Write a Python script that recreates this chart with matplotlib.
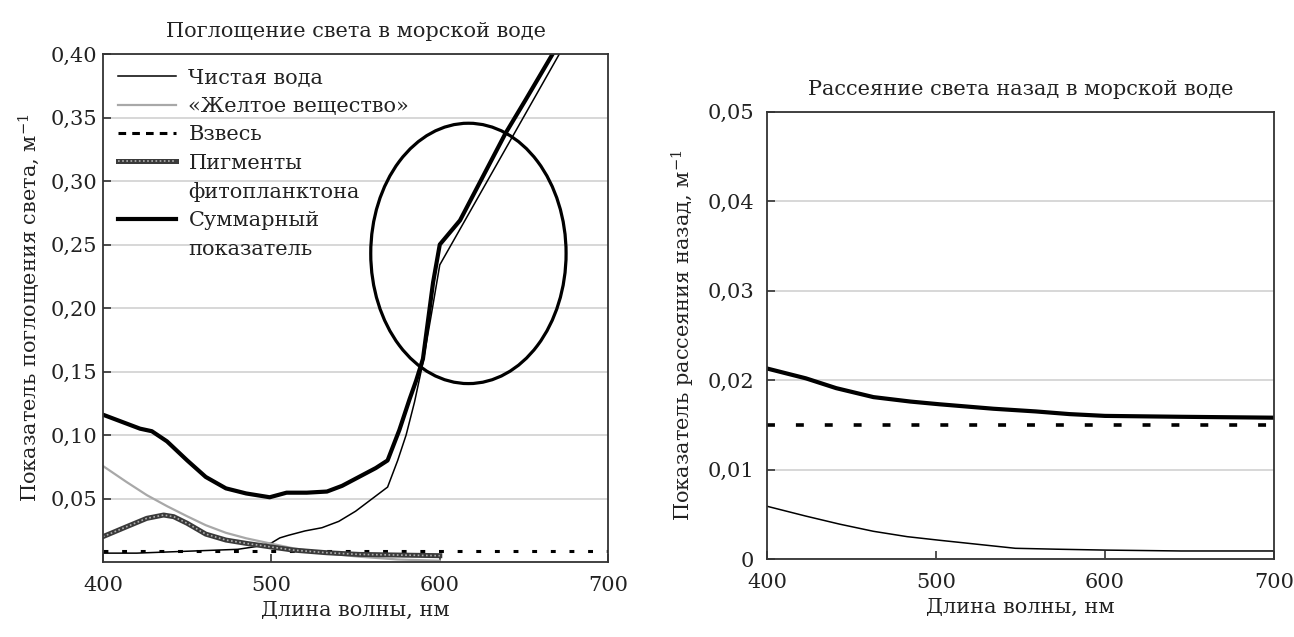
import numpy as np
import matplotlib.pyplot as plt
from matplotlib.patches import Ellipse
from matplotlib.lines import Line2D
from matplotlib.ticker import FuncFormatter

plt.rcParams['font.family'] = ['DejaVu Serif']
plt.rcParams['mathtext.fontset'] = 'dejavuserif'
FS = 15

# --- absorption, left panel ---
water_nm = [400, 420, 440, 460, 480, 490, 500, 505, 510, 520, 530, 540, 550,
            560, 569, 575, 580, 585, 590, 595, 600, 671]
water_a = [0.007, 0.007, 0.008, 0.009, 0.010, 0.012, 0.015, 0.019, 0.021,
           0.0245, 0.027, 0.032, 0.040, 0.050, 0.059, 0.080, 0.100, 0.126,
           0.157, 0.195, 0.234, 0.40]

yellow_nm = [400, 414, 426, 438, 450, 461, 473, 485, 499, 513, 533, 552, 575, 600]
yellow_a = [0.0756, 0.063, 0.0527, 0.044, 0.036, 0.029, 0.023, 0.0187,
            0.0147, 0.0108, 0.0068, 0.0042, 0.002, 0.001]

susp_nm = [400, 700]
susp_a = [0.009, 0.009]

pigm_nm = [400, 414, 426, 436, 442, 450, 461, 473, 485, 499, 513, 533, 552, 575, 600]
pigm_a = [0.020, 0.0278, 0.0344, 0.037, 0.0357, 0.0305, 0.022, 0.0173,
          0.0147, 0.012, 0.0094, 0.0073, 0.006, 0.0055, 0.005]

total_nm = [400, 414, 422, 429, 438, 450, 461, 473, 485, 499, 509, 521, 533,
            542, 552, 562, 569, 576, 582, 586, 590, 596, 600, 612, 639, 651, 667]
total_a = [0.116, 0.109, 0.105, 0.103, 0.095, 0.080, 0.067, 0.058, 0.054,
           0.051, 0.0546, 0.0546, 0.0555, 0.060, 0.067, 0.074, 0.080, 0.104,
           0.128, 0.143, 0.160, 0.220, 0.250, 0.269, 0.3375, 0.364, 0.40]

# --- backscattering, right panel ---
bb_nm = [400, 423, 441, 463, 485, 502, 534, 559, 579, 600, 645, 700]
bb_total = [0.0213, 0.0202, 0.0191, 0.0181, 0.0176, 0.0173, 0.0168, 0.0165,
            0.0162, 0.0160, 0.0159, 0.0158]
bbw_nm = [400, 423, 443, 463, 483, 502, 527, 547, 571, 600, 645, 700]
bb_water = [0.0059, 0.0048, 0.0039, 0.0031, 0.0025, 0.0021, 0.0016, 0.0012,
            0.0011, 0.0010, 0.0009, 0.0009]
bbs_nm = [400, 700]
bb_susp = [0.015, 0.015]

x_ticks = [400, 500, 600, 700]
left_yticks = [0.05, 0.10, 0.15, 0.20, 0.25, 0.30, 0.35, 0.40]
right_yticks = [0, 0.01, 0.02, 0.03, 0.04, 0.05]

# highlighted region (ellipse) on the absorption panel
ell_center = (617, 0.243)
ell_w, ell_h = 116, 0.205


def comma_fmt(v, pos):
    if abs(v) < 1e-9:
        return '0'
    return f'{v:.2f}'.replace('.', ',')


def style_axes(ax):
    for s in ax.spines.values():
        s.set_color('#333333')
        s.set_linewidth(1.3)
    ax.tick_params(direction='in', length=6, width=1.2, color='#333333',
                   labelsize=FS, labelcolor='#222222', top=False, right=False)
    ax.tick_params(axis='x', pad=10)
    ax.yaxis.grid(True, color='#d4d4d4', linewidth=1.3)
    ax.set_axisbelow(True)
    ax.yaxis.set_major_formatter(FuncFormatter(comma_fmt))
    ax.set_xticks(x_ticks)
    ax.set_xlim(400, 700)


fig = plt.figure(figsize=(12.94, 6.37), dpi=100)
ax1 = fig.add_axes([0.0796, 0.1177, 0.3904, 0.7975])
ax2 = fig.add_axes([0.5927, 0.1224, 0.3918, 0.7022])

# left panel
ax1.plot(water_nm, water_a, color='black', lw=1.1)
ax1.plot(yellow_nm, yellow_a, color='#a8a8a8', lw=1.6)
ax1.plot(susp_nm, susp_a, color='black', lw=2.2, linestyle=(0, (1.6, 4.5)))
pg1, = ax1.plot(pigm_nm, pigm_a, color='#3a3a3a', lw=3.6)
pg2, = ax1.plot(pigm_nm, pigm_a, color='#b0b0b0', lw=1.2, linestyle=(0, (1, 1.5)))
ax1.plot(total_nm, total_a, color='black', lw=3.0)
ax1.add_patch(Ellipse(ell_center, ell_w, ell_h, fill=False, color='black', lw=2.3))

ax1.set_ylim(0, 0.40)
ax1.set_yticks(left_yticks)
style_axes(ax1)
ax1.tick_params(axis='y', pad=4)
ax1.set_title('Поглощение света в морской воде', fontsize=FS, pad=12, color='#222222')
ax1.set_xlabel('Длина волны, нм', fontsize=FS, labelpad=4, color='#222222')
ax1.set_ylabel('Показатель поглощения света, м$^{-1}$', fontsize=FS,
               labelpad=6, color='#222222')

blank = Line2D([], [], color='none')
handles = [
    Line2D([], [], color='black', lw=1.1),
    Line2D([], [], color='#a8a8a8', lw=1.6),
    Line2D([], [], color='black', lw=2.2, linestyle=(0, (2.5, 2))),
    (pg1, pg2),
    blank,
    Line2D([], [], color='black', lw=3.0),
    blank,
]
labels = ['Чистая вода', '«Желтое вещество»', 'Взвесь', 'Пигменты',
          'фитопланктона', 'Суммарный', 'показатель']
leg = ax1.legend(handles, labels, loc='upper left', frameon=False, fontsize=FS,
                 handlelength=2.8, handletextpad=0.6, labelspacing=0.45,
                 borderaxespad=0.3, borderpad=0.4)
for t in leg.get_texts():
    t.set_color('#222222')

# right panel
ax2.plot(bbw_nm, bb_water, color='black', lw=1.1)
ax2.plot(bbs_nm, bb_susp, color='black', lw=2.6, linestyle=(0, (2.2, 5.8)))
ax2.plot(bb_nm, bb_total, color='black', lw=3.0)
ax2.set_ylim(0, 0.05)
ax2.set_yticks(right_yticks)
style_axes(ax2)
ax2.tick_params(axis='y', pad=9)
ax2.set_title('Рассеяние света назад в морской воде', fontsize=FS, pad=12, color='#222222')
ax2.set_xlabel('Длина волны, нм', fontsize=FS, labelpad=4, color='#222222')
ax2.set_ylabel('Показатель рассеяния назад, м$^{-1}$', fontsize=FS,
               labelpad=8, color='#222222')

fig.savefig('out.png', dpi=100)
